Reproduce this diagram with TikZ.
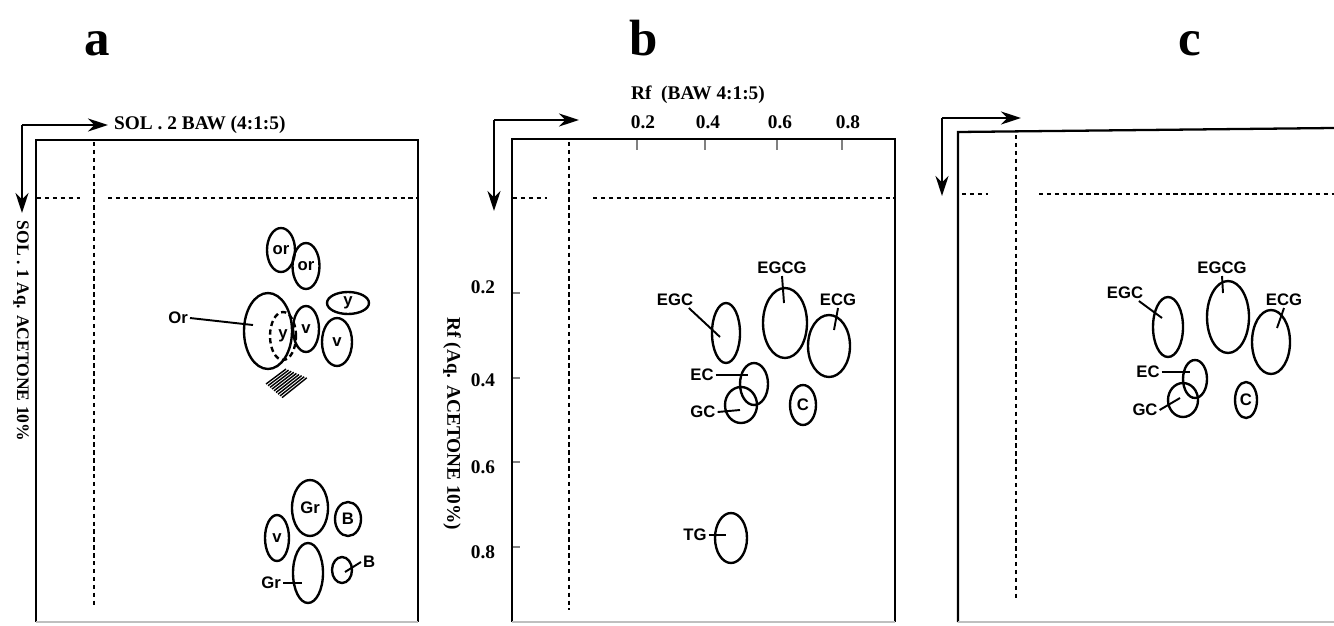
\documentclass[tikz,border=0pt]{standalone}
\usepackage{fontspec}
\setmainfont{Liberation Serif}
\newfontfamily\handfont{Liberation Sans}
\usetikzlibrary{shapes.geometric, arrows.meta, positioning}

\tikzset{
  spot/.style={draw, ellipse, line width=1.35pt, inner sep=0pt, font=\handfont\bfseries\fontsize{9.5}{10}\selectfont},
  tag/.style={font=\handfont\bfseries\fontsize{9.5}{10}\selectfont, inner sep=1pt},
  lead/.style={line width=1.1pt},
  frame/.style={line width=1.3pt},
  faint/.style={gray!50, line width=0.8pt},
  guide/.style={line width=0.9pt, dash pattern=on 2.5pt off 2pt},
  axis/.style={font=\bfseries\fontsize{11}{12}\selectfont},
  run/.style={line width=1.4pt, -{Stealth[length=0.4cm,width=0.26cm]}},
  panel/.style={font=\bfseries\fontsize{29}{30}\selectfont, anchor=base}
}

\begin{document}
\begin{tikzpicture}[x=0.02cm, y=-0.02cm]
  \useasboundingbox (0,0) rectangle (1334,625);

  % panel a
  \node[panel] (ta) at (97,56) {a};
  \coordinate (ca) at (22,125);
  \coordinate (da) at (22,213);
  \node[axis, anchor=west] (sol2) at (108,125) {SOL . 2 BAW (4:1:5)};
  \draw[run] (ca) -- (sol2.west);
  \draw[run] (ca) -- (da);
  \node[axis, font=\bfseries\fontsize{10}{12}\selectfont, rotate=-90] (sol1) at (21,331) {SOL . 1 Aq. ACETONE 10\%};
  \draw[frame] (36,622) -- (36,140) -- (418,140) -- (418,622);
  \draw[faint] (36,622) -- (418,622);
  \draw[guide] (94,142) -- (94,608);
  \draw[guide] (37,198) -- (80,198);
  \draw[guide] (108,198) -- (417,198);

  \node[spot, minimum width=0.56cm, minimum height=0.88cm] (or1) at (281,250) {or};
  \node[spot, minimum width=0.54cm, minimum height=0.92cm] (or2) at (306,266) {or};
  \node[spot, minimum width=0.96cm, minimum height=1.52cm] (bigOr) at (268,331) {};
  \node[spot, densely dashed, minimum width=0.52cm, minimum height=0.96cm] (y1) at (283,336) {y};
  \node[spot, minimum width=0.52cm, minimum height=0.92cm] (v1) at (306,329) {v};
  \node[spot, minimum width=0.6cm, minimum height=0.96cm] (v2) at (337,342) {v};
  \node[spot, minimum width=0.84cm, minimum height=0.44cm] (y2) at (348,303) {y};
  \node[tag, anchor=east] (orL) at (190,318) {Or};
  \coordinate (orP) at (253,325);
  \draw[lead] (orL.east) -- (orP);
  \foreach \i in {0,...,8}
    \draw[line width=0.8pt] (266+2*\i,384+1.7*\i) -- ++(20+0.6*\i,-15-0.6*\i);

  \node[spot, minimum width=0.72cm, minimum height=1.12cm] (gr1) at (310,508) {Gr};
  \node[spot, minimum width=0.52cm, minimum height=0.68cm] (b1) at (348,519) {B};
  \node[spot, minimum width=0.48cm, minimum height=0.92cm] (v3) at (277,538) {v};
  \node[spot, minimum width=0.6cm, minimum height=1.2cm] (gr2) at (308,573) {};
  \node[tag, anchor=east] (grL) at (283,583) {Gr};
  \coordinate (grP) at (302,583);
  \draw[lead] (grL.east) -- (grP);
  \node[spot, minimum width=0.4cm, minimum height=0.52cm] (b2) at (342,570) {};
  \node[tag, anchor=west] (bL) at (361,562) {B};
  \coordinate (bP) at (345,572);
  \draw[lead] (bP) -- (bL.west);

  % panel b
  \node[panel] (tb) at (644,56) {b};
  \node[axis] (rfx) at (698,95) {Rf\ \ (BAW 4:1:5)};
  \foreach \v/\x [count=\i] in {0.2/643, 0.4/708, 0.6/780, 0.8/848}
    \node[axis] (bx\i) at (\x,122) {\v};
  \foreach \v/\y [count=\i] in {0.2/287, 0.4/380, 0.6/467, 0.8/552}
    \node[axis] (by\i) at (483,\y) {\v};
  \coordinate (cb) at (494,120);
  \coordinate (db) at (494,211);
  \coordinate (eb) at (579,120);
  \draw[run] (cb) -- (eb);
  \draw[run] (cb) -- (db);
  \node[axis, rotate=-90] (rfy) at (452,424) {Rf (Aq. ACETONE 10\%)};
  \draw[frame] (512,622) -- (512,139) -- (895,139) -- (895,622);
  \draw[faint] (512,622) -- (895,622);
  \foreach \x in {637,705,777,842}
    \draw[gray, line width=0.6pt] (\x,140) -- (\x,150);
  \foreach \y in {293,378,462,547}
    \draw[gray, line width=0.6pt] (513,\y) -- (520,\y);
  \draw[guide] (569,142) -- (569,610);
  \draw[guide] (513,198) -- (547,198);
  \draw[guide] (593,198) -- (894,198);

  \node[spot, minimum width=0.56cm, minimum height=1.2cm] (egcB) at (726,333) {};
  \node[tag] (egcBL) at (675,300) {EGC};
  \coordinate (egcBP) at (720,337);
  \draw[lead] (egcBL.-30) -- (egcBP);
  \node[spot, minimum width=0.88cm, minimum height=1.4cm] (egcgB) at (785,323) {};
  \node[tag] (egcgBL) at (782,268) {EGCG};
  \coordinate (egcgBP) at (784,303);
  \draw[lead] (egcgBL.south) -- (egcgBP);
  \node[spot, minimum width=0.84cm, minimum height=1.24cm] (ecgB) at (829,346) {};
  \node[tag] (ecgBL) at (838,300) {ECG};
  \coordinate (ecgBP) at (834,330);
  \draw[lead] (ecgBL.south) -- (ecgBP);
  \node[spot, minimum width=0.56cm, minimum height=0.84cm] (ecB) at (754,384) {};
  \node[tag] (ecBL) at (702,375) {EC};
  \coordinate (ecBP) at (748,375);
  \draw[lead] (ecBL.east) -- (ecBP);
  \node[spot, minimum width=0.64cm, minimum height=0.72cm] (gcB) at (741,405) {};
  \node[tag] (gcBL) at (703,412) {GC};
  \coordinate (gcBP) at (740,410);
  \draw[lead] (gcBL.east) -- (gcBP);
  \node[spot, minimum width=0.52cm, minimum height=0.8cm] (cB) at (803,405) {C};
  \node[spot, minimum width=0.64cm, minimum height=1.0cm] (tgB) at (731,538) {};
  \node[tag] (tgBL) at (695,535) {TG};
  \coordinate (tgBP) at (726,535);
  \draw[lead] (tgBL.east) -- (tgBP);

  % panel c
  \node[panel] (tc) at (1190,56) {c};
  \coordinate (cc) at (942,118);
  \coordinate (dc) at (942,196);
  \coordinate (ec) at (1021,118);
  \draw[run] (cc) -- (ec);
  \draw[run] (cc) -- (dc);
  \draw[frame] (958,622) -- (958,132) -- (1334,128);
  \draw[faint] (958,622) -- (1334,622);
  \draw[guide] (1016,135) -- (1016,600);
  \draw[guide] (962,194) -- (988,194);
  \draw[guide] (1039,194) -- (1334,194);

  \node[spot, minimum width=0.6cm, minimum height=1.2cm] (egcC) at (1168,327) {};
  \node[tag] (egcCL) at (1125,293) {EGC};
  \coordinate (egcCP) at (1162,318);
  \draw[lead] (egcCL.-30) -- (egcCP);
  \node[spot, minimum width=0.84cm, minimum height=1.44cm] (egcgC) at (1228,317) {};
  \node[tag] (egcgCL) at (1222,268) {EGCG};
  \coordinate (egcgCP) at (1223,293);
  \draw[lead] (egcgCL.south) -- (egcgCP);
  \node[spot, minimum width=0.76cm, minimum height=1.28cm] (ecgC) at (1271,342) {};
  \node[tag] (ecgCL) at (1284,300) {ECG};
  \coordinate (ecgCP) at (1277,328);
  \draw[lead] (ecgCL.south) -- (ecgCP);
  \node[spot, minimum width=0.48cm, minimum height=0.76cm] (ecC) at (1195,379) {};
  \node[tag] (ecCL) at (1148,372) {EC};
  \coordinate (ecCP) at (1190,372);
  \draw[lead] (ecCL.east) -- (ecCP);
  \node[spot, minimum width=0.6cm, minimum height=0.68cm] (gcC) at (1183,400) {};
  \node[tag] (gcCL) at (1145,410) {GC};
  \coordinate (gcCP) at (1180,398);
  \draw[lead] (gcCL.east) -- (gcCP);
  \node[spot, minimum width=0.44cm, minimum height=0.72cm] (cC) at (1246,400) {C};
\end{tikzpicture}
\end{document}
